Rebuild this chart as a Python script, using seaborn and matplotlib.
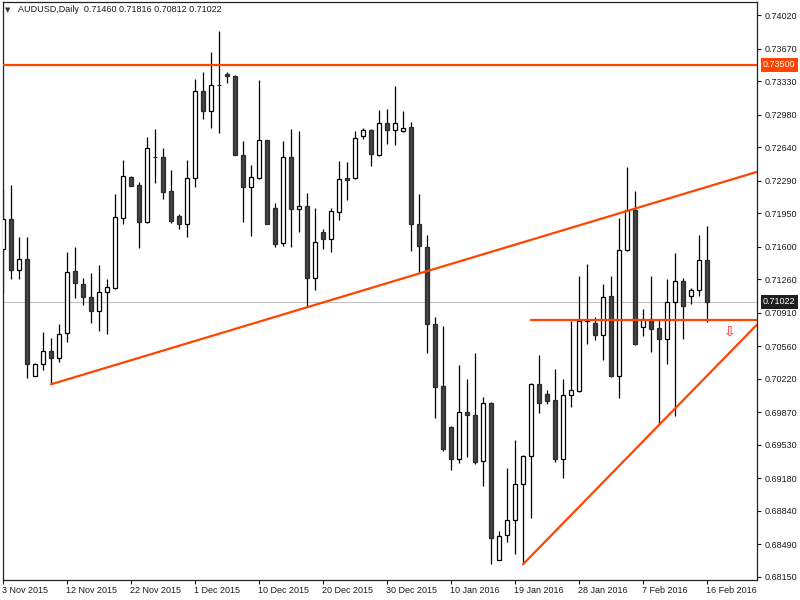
import matplotlib
matplotlib.use("Agg")
import matplotlib.pyplot as plt
import matplotlib.transforms as mtransforms
import numpy as np
import pandas as pd
import seaborn as sns

# AUDUSD daily, 3 Nov 2015 - 16 Feb 2016 (prices)
opens = [0.71572, 0.71885, 0.71352, 0.71467, 0.70245, 0.70370, 0.70506, 0.70433, 0.70694, 0.71345,
         0.71206, 0.71070, 0.70924, 0.71122, 0.71170, 0.71896, 0.72327, 0.72241, 0.71860, 0.72540,
         0.72536, 0.72181, 0.71920, 0.71833, 0.72314, 0.73226, 0.73014, 0.73286, 0.73407, 0.73383,
         0.72554, 0.72220, 0.72320, 0.72711, 0.72000, 0.71635, 0.72533, 0.71990, 0.72024, 0.71275,
         0.71753, 0.71683, 0.71965, 0.72314, 0.72314, 0.72759, 0.72815, 0.72554, 0.72889, 0.72815,
         0.72805, 0.72847, 0.71833, 0.71593, 0.70788, 0.70143, 0.69712, 0.69384, 0.69869, 0.69840,
         0.69356, 0.69963, 0.68322, 0.68583, 0.68740, 0.69116, 0.69409, 0.70164, 0.70057, 0.69997,
         0.69384, 0.70046, 0.70091, 0.70826, 0.70798, 0.70679, 0.71081, 0.70251, 0.71561, 0.71979,
         0.70760, 0.70840, 0.70746, 0.70638, 0.71018, 0.71237, 0.71081, 0.71143, 0.71460]
highs = [0.72191, 0.72244, 0.71700, 0.71700, 0.70387, 0.70708, 0.70645, 0.70791, 0.71544, 0.71596,
         0.71272, 0.71324, 0.71408, 0.71261, 0.72150, 0.72505, 0.72338, 0.72278, 0.72749, 0.72829,
         0.72634, 0.72401, 0.71944, 0.72505, 0.73355, 0.73428, 0.73637, 0.73853, 0.73425, 0.73393,
         0.72704, 0.72456, 0.73341, 0.72719, 0.72053, 0.72704, 0.72829, 0.72808, 0.72160, 0.72003,
         0.71784, 0.72003, 0.72495, 0.72484, 0.72808, 0.72836, 0.72824, 0.73028, 0.73038, 0.73278,
         0.73017, 0.72899, 0.72150, 0.71718, 0.70864, 0.70770, 0.69725, 0.70363, 0.70216, 0.70488,
         0.70032, 0.69971, 0.68628, 0.69286, 0.69579, 0.69422, 0.70172, 0.70470, 0.70102, 0.70321,
         0.70216, 0.70819, 0.71293, 0.71418, 0.70861, 0.71206, 0.71293, 0.71896, 0.72435, 0.72184,
         0.70948, 0.71293, 0.70840, 0.71261, 0.71533, 0.71269, 0.71167, 0.71721, 0.71816]
lows = [0.71115, 0.71261, 0.71258, 0.70230, 0.70245, 0.70311, 0.70161, 0.70397, 0.70606, 0.71060,
        0.70993, 0.70805, 0.70721, 0.70690, 0.71160, 0.71833, 0.72233, 0.71589, 0.71850, 0.72268,
        0.72097, 0.71850, 0.71784, 0.71704, 0.72226, 0.72930, 0.72836, 0.72790, 0.73307, 0.72554,
        0.71860, 0.71714, 0.72306, 0.71833, 0.71599, 0.71609, 0.71599, 0.71756, 0.70966, 0.71150,
        0.71578, 0.71547, 0.71881, 0.72087, 0.72306, 0.72721, 0.72445, 0.72547, 0.72675, 0.72665,
        0.72795, 0.71557, 0.71321, 0.70485, 0.69806, 0.69467, 0.69266, 0.69342, 0.69405, 0.69325,
        0.69101, 0.68280, 0.68322, 0.68516, 0.68391, 0.68280, 0.68761, 0.69864, 0.69955, 0.69352,
        0.69185, 0.69921, 0.70081, 0.70582, 0.70624, 0.70415, 0.70234, 0.70021, 0.71554, 0.70572,
        0.70669, 0.70502, 0.69736, 0.70376, 0.69833, 0.70634, 0.71003, 0.71084, 0.70812]
closes = [0.71885, 0.71352, 0.71467, 0.70370, 0.70373, 0.70506, 0.70433, 0.70684, 0.71332, 0.71217,
          0.71070, 0.70924, 0.71122, 0.71175, 0.71906, 0.72335, 0.72236, 0.71860, 0.72634, 0.72536,
          0.72174, 0.71871, 0.71833, 0.72314, 0.73226, 0.73017, 0.73286, 0.73284, 0.73383, 0.72554,
          0.72220, 0.72324, 0.72711, 0.71833, 0.71630, 0.72533, 0.71990, 0.72021, 0.71275, 0.71648,
          0.71683, 0.71972, 0.72303, 0.72296, 0.72732, 0.72815, 0.72565, 0.72889, 0.72815, 0.72889,
          0.72836, 0.71833, 0.71603, 0.70788, 0.70130, 0.69482, 0.69377, 0.69869, 0.69837, 0.69352,
          0.69963, 0.68552, 0.68579, 0.68740, 0.69116, 0.69409, 0.70164, 0.69969, 0.69990, 0.69384,
          0.70049, 0.70098, 0.70826, 0.70828, 0.70679, 0.71070, 0.70251, 0.71561, 0.71979, 0.70579,
          0.70840, 0.70742, 0.70638, 0.71018, 0.71237, 0.70982, 0.71143, 0.71457, 0.71022]

date_labels = ["3 Nov 2015", "12 Nov 2015", "22 Nov 2015", "1 Dec 2015", "10 Dec 2015",
               "20 Dec 2015", "30 Dec 2015", "10 Jan 2016", "19 Jan 2016", "28 Jan 2016",
               "7 Feb 2016", "16 Feb 2016"]
price_ticks = [0.74020, 0.73670, 0.73330, 0.72980, 0.72640, 0.72290, 0.71950, 0.71600, 0.71260,
               0.70910, 0.70560, 0.70220, 0.69870, 0.69530, 0.69180, 0.68840, 0.68490, 0.68150]

resistance = 0.73500
last_price = 0.71022
flat_start_bar = 66
flat_price = 0.70830
upper_trend_bars = [6, 38]
upper_trend_prices = [0.70161, 0.70966]
lower_trend_bars = [65, 82]
lower_trend_prices = [0.68280, 0.69736]
sell_arrow_bar = 90.75
sell_arrow_price = 0.70711

LINE_RED = "#FF4500"
BEAR = "#404040"

sns.set_style("white")
plt.rcParams["font.family"] = ["Liberation Sans", "DejaVu Sans"]
plt.rcParams["font.size"] = 6.5

df = pd.DataFrame({"open": opens, "high": highs, "low": lows, "close": closes})
df["bar"] = np.arange(len(df))
up = df["close"] >= df["open"]

fig = plt.figure(figsize=(8, 6), dpi=100)
ax = fig.add_axes([2.5 / 800, 20 / 600, 754.5 / 800, 578 / 600])
x_left, x_right = -0.0625, 94.25
ax.set_xlim(x_left, x_right)
ax.set_ylim(0.68116, 0.74156)

# reference lines
ax.axhline(last_price, color="#C0C0C0", lw=0.8, zorder=1)
ax.axhline(resistance, color=LINE_RED, lw=1.6, zorder=4)

# candles
ax.vlines(df["bar"], df["low"], df["high"], color="black", lw=0.9, zorder=2)
ax.bar(df["bar"][up], (df["close"] - df["open"])[up], bottom=df["open"][up], width=0.62,
       color="white", edgecolor="black", lw=0.9, zorder=3)
ax.bar(df["bar"][~up], (df["close"] - df["open"])[~up], bottom=df["open"][~up], width=0.62,
       color=BEAR, edgecolor="#2b2b2b", lw=0.9, zorder=3)

# trend lines extended to the right edge
def ray(bars, prices):
    slope = (prices[1] - prices[0]) / (bars[1] - bars[0])
    return pd.DataFrame({"x": [bars[0], x_right],
                         "y": [prices[0], prices[0] + slope * (x_right - bars[0])]})

for bars, prices in [(upper_trend_bars, upper_trend_prices), (lower_trend_bars, lower_trend_prices)]:
    sns.lineplot(data=ray(bars, prices), x="x", y="y", color=LINE_RED, lw=1.6, ax=ax, zorder=4)
sns.lineplot(x=[flat_start_bar, x_right], y=[flat_price, flat_price], color=LINE_RED, lw=1.6,
             ax=ax, zorder=4)

ax.text(sell_arrow_bar, sell_arrow_price, "\u21e9", color="#FF1A1A", fontsize=10,
        ha="center", va="center", family="DejaVu Sans", zorder=5)

# axes styling
for s in ax.spines.values():
    s.set_color("#222222")
    s.set_linewidth(0.9)
ax.set_xlabel("")
ax.set_ylabel("")
ax.set_xticks(np.arange(0, 89, 8))
ax.set_xticklabels(date_labels, ha="left")
ax.tick_params(axis="x", direction="out", length=3, width=0.8, pad=1.5, colors="#1a1a1a",
               bottom=True)
for lab in ax.get_xticklabels():
    lab.set_transform(lab.get_transform() + mtransforms.ScaledTranslation(-1 / 100, 0, fig.dpi_scale_trans))
ax.yaxis.tick_right()
ax.set_yticks(price_ticks)
ax.set_yticklabels([f"{p:.5f}" for p in price_ticks])
ax.tick_params(axis="y", direction="out", length=3, width=0.8, pad=2.5, colors="#1a1a1a",
               right=True, left=False)

# highlighted price labels on the right
trans = mtransforms.blended_transform_factory(fig.transFigure, ax.transData)
ax.text(763 / 800, resistance, f"{resistance:.5f}", transform=trans, color="white",
        ha="left", va="center", zorder=6,
        bbox=dict(boxstyle="square,pad=0.25", fc=LINE_RED, ec="none"))
ax.text(763 / 800, last_price, f"{last_price:.5f}", transform=trans, color="white",
        ha="left", va="center", zorder=6,
        bbox=dict(boxstyle="square,pad=0.25", fc="#1e1e1e", ec="none"))

# header
fig.text(5 / 800, 1 - 10 / 600, "\u25bc", fontsize=5, color="#333333", va="center",
         family="DejaVu Sans")
fig.text(18 / 800, 1 - 10 / 600,
         f"AUDUSD,Daily  {opens[-1]:.5f} {highs[-1]:.5f} {lows[-1]:.5f} {closes[-1]:.5f}",
         color="#1a1a1a", va="center")

fig.savefig("out.png", dpi=100)
